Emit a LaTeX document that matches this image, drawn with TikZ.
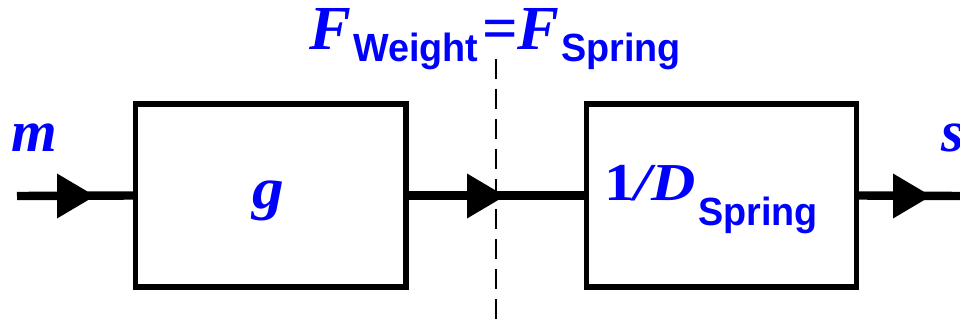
\documentclass[tikz,border=0pt]{standalone}
\usepackage{fontspec}
\setmainfont{Liberation Serif}
\newfontfamily\subsans{Liberation Sans}
\newcommand{\subtxt}[2]{\raisebox{-#1}{\scalebox{0.96}[1]{\fontsize{29.5}{29.5}\selectfont\subsans\bfseries\upshape #2}}}
\definecolor{symblue}{RGB}{0,0,255}
\begin{document}
\begin{tikzpicture}[x=0.75pt,y=-0.75pt,
  blockbox/.style={draw=black,line width=3.9pt,minimum width=203pt,minimum height=137.25pt,inner sep=0pt,outer sep=0pt},
  signal/.style={line width=6.3pt},
  sym/.style={text=symblue,inner sep=0pt,anchor=base west,font=\fontsize{44}{44}\selectfont\bfseries\itshape},
  cutline/.style={line width=2pt,dash pattern=on 15pt off 7.5pt},
  flowtri/.pic={\fill[black] (0,0) -- (-38,-22.5) -- (-38,22.5) -- cycle;}
]
\useasboundingbox (0,0) rectangle (960,324);
\node[blockbox] (box1) at (270.75,195.5) {};
\node[blockbox] (box2) at (721.5,195.5) {};
\coordinate (in) at (17,196);
\coordinate (out) at (962,196);
\coordinate (cuttop) at (496,59);
\coordinate (cutbot) at (496,326);
\draw[cutline] (cuttop) -- (cutbot);
\draw[signal] (in) -- (box1.west);
\draw[signal] (box1.east) -- (box2.west);
\draw[signal] (box2.east) -- (out);
\pic at (95,196) {flowtri};
\pic at (505,196) {flowtri};
\pic at (931,196) {flowtri};
\node[sym] (mlabel) at (11,152) {m};
\node[sym] (slabel) at (941,152) {s};
\node[sym] (glabel) at (252,209) {\scalebox{1.08}[1]{g}};
\node[sym,font=\fontsize{40}{40}\selectfont\bfseries\itshape] (dlabel) at (604,200) {\scalebox{1.15}[1]{{\upshape 1}/D}\hspace{1.5pt}\subtxt{18.75pt}{Spring}};
\node[sym,font=\fontsize{47}{47}\selectfont\bfseries\itshape] (title) at (309,50) {F\hspace{1.5pt}\subtxt{9pt}{Weight}\hspace{3pt}{\upshape =}F\hspace{1pt}\subtxt{9pt}{Spring}};
\end{tikzpicture}
\end{document}
